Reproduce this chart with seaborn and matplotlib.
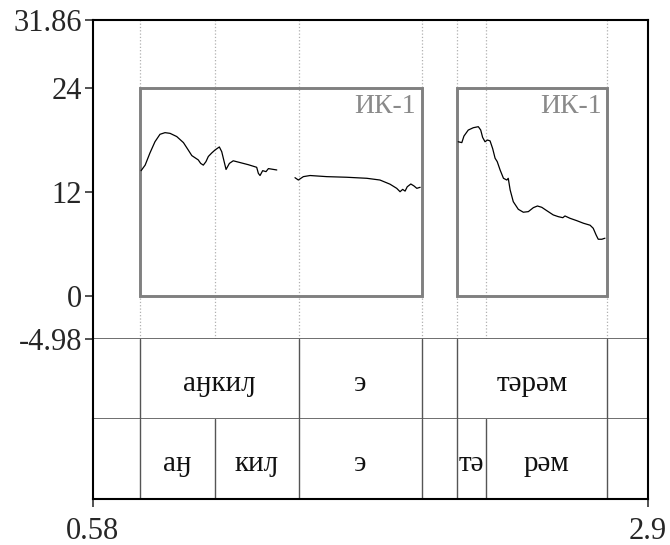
import matplotlib
matplotlib.use('Agg')
import matplotlib.pyplot as plt
import pandas as pd
import seaborn as sns
from matplotlib.patches import Rectangle

# Pitch track (time in s, F0 in semitones-ish units), three voiced stretches
seg1_t = [0.782, 0.799, 0.819, 0.840, 0.861, 0.882, 0.903, 0.931, 0.959, 0.979, 0.994,
          1.007, 1.021, 1.031, 1.042, 1.053, 1.063, 1.077, 1.091, 1.109, 1.119, 1.137,
          1.151, 1.167, 1.195, 1.230, 1.265, 1.272, 1.279, 1.290, 1.304, 1.314, 1.349]
seg1_f = [14.46, 15.1, 16.5, 17.8, 18.66, 18.85, 18.77, 18.4, 17.7, 16.85, 16.2,
          15.96, 15.7, 15.3, 15.1, 15.5, 16.1, 16.5, 16.85, 17.2, 16.65, 14.6,
          15.3, 15.6, 15.4, 15.15, 14.85, 14.15, 13.9, 14.46, 14.35, 14.7, 14.54]
seg2_t = [1.425, 1.439, 1.460, 1.488, 1.558, 1.641, 1.725, 1.780, 1.822, 1.850, 1.864,
          1.875, 1.885, 1.894, 1.909, 1.922, 1.934, 1.948]
seg2_f = [13.65, 13.38, 13.77, 13.9, 13.77, 13.7, 13.58, 13.38, 12.9, 12.42, 12.03,
          12.3, 12.1, 12.6, 12.92, 12.7, 12.42, 12.54]
seg3_t = [2.107, 2.122, 2.131, 2.149, 2.170, 2.191, 2.201, 2.209, 2.219, 2.229, 2.240,
          2.251, 2.261, 2.270, 2.282, 2.296, 2.310, 2.316, 2.324, 2.337, 2.358, 2.379,
          2.400, 2.421, 2.438, 2.456, 2.477, 2.504, 2.525, 2.544, 2.553, 2.574, 2.602,
          2.630, 2.658, 2.671, 2.683, 2.692, 2.707, 2.720]
seg3_f = [17.8, 17.7, 18.46, 19.15, 19.42, 19.54, 19.15, 18.3, 17.8, 18.0, 17.9,
          17.0, 15.9, 15.5, 14.54, 13.58, 13.38, 13.58, 12.23, 10.88, 10.0, 9.66,
          9.73, 10.19, 10.38, 10.23, 9.84, 9.35, 9.15, 9.03, 9.23, 8.96, 8.69,
          8.39, 8.16, 7.81, 7.04, 6.54, 6.54, 6.66]

# Intonation units (boxes)
box_start = [0.778, 2.102]
box_end = [1.954, 2.729]
box_top = 24
box_label = ['ИК-1', 'ИК-1']

# Text tiers
tier1_bounds = [0.778, 1.442, 1.954, 2.102, 2.729]
tier1_labels = ['аӈкиԓ', 'э', '', 'тәрәм']
tier2_bounds = [0.778, 1.091, 1.442, 1.954, 2.102, 2.223, 2.729]
tier2_labels = ['аӈ', 'киԓ', 'э', '', 'тә', 'рәм']

y_ticks = [-4.98, 0, 12, 24, 31.86]
y_ticklabels = ['-4.98', '0', '12', '24', '31.86']
x_min, x_max = 0.58, 2.9

sns.set_style('white')
plt.rcParams['font.family'] = ['Liberation Serif', 'DejaVu Serif']

df = pd.concat([
    pd.DataFrame({'time': seg1_t, 'f0': seg1_f, 'seg': 1}),
    pd.DataFrame({'time': seg2_t, 'f0': seg2_f, 'seg': 2}),
    pd.DataFrame({'time': seg3_t, 'f0': seg3_f, 'seg': 3}),
])

fig = plt.figure(figsize=(6.7, 5.45), dpi=100)
gs = fig.add_gridspec(3, 1, height_ratios=[319, 80, 80], hspace=0,
                      left=0.1384, right=0.9672, top=0.9633, bottom=0.0844)
ax = fig.add_subplot(gs[0])
t1 = fig.add_subplot(gs[1], sharex=ax)
t2 = fig.add_subplot(gs[2], sharex=ax)

# dotted boundary lines in pitch panel
for b in sorted(set(tier1_bounds + tier2_bounds)):
    ax.axvline(b, color='#b0b0b0', lw=0.9, ls=':', zorder=1)

# boxes
for s, e, lab in zip(box_start, box_end, box_label):
    ax.add_patch(Rectangle((s, 0), e - s, box_top, fill=False, ec='#808080', lw=2.1, zorder=2))
    ax.annotate(lab, xy=(e, box_top), xytext=(-4, -4.5), textcoords='offset points',
                ha='right', va='top', fontsize=20, color='#8a8a8a')

sns.lineplot(data=df, x='time', y='f0', units='seg', estimator=None, sort=False,
             color='black', lw=0.9, ax=ax, zorder=3)

ax.set_xlim(x_min, x_max)
ax.set_ylim(y_ticks[0], y_ticks[-1])
ax.set_yticks(y_ticks)
ax.set_yticklabels(y_ticklabels)
ax.set_xlabel('')
ax.set_ylabel('')
ax.tick_params(axis='x', bottom=False, labelbottom=False)
ax.tick_params(axis='y', left=True, direction='out', length=5.5, width=1.2,
               pad=2, labelsize=22, color='#333333')
for side in ['left', 'top', 'right']:
    ax.spines[side].set_linewidth(1.5)
    ax.spines[side].set_color('black')
ax.spines['bottom'].set_linewidth(1.2)
ax.spines['bottom'].set_color('#555555')


def draw_tier(tax, bounds, labels):
    tax.set_ylim(0, 1)
    tax.set_yticks([])
    for b in bounds:
        tax.axvline(b, color='#555555', lw=1.0)
    for i, lab in enumerate(labels):
        if lab:
            tax.text((bounds[i] + bounds[i + 1]) / 2, 0.44, lab, ha='center', va='center',
                     fontsize=21, color='#111111')
    tax.spines['top'].set_visible(False)
    for side in ['left', 'right']:
        tax.spines[side].set_linewidth(1.5)
        tax.spines[side].set_color('black')


draw_tier(t1, tier1_bounds, tier1_labels)
draw_tier(t2, tier2_bounds, tier2_labels)
t1.tick_params(axis='x', bottom=False, labelbottom=False)
t1.spines['bottom'].set_linewidth(1.2)
t1.spines['bottom'].set_color('#555555')
t2.spines['bottom'].set_linewidth(1.5)
t2.spines['bottom'].set_color('black')
t2.set_xticks([x_min, x_max])
t2.set_xticklabels(['0.58', '2.9'])
t2.tick_params(axis='x', bottom=True, direction='out', length=6, width=1.2,
               pad=7, labelsize=22, color='#333333')

fig.savefig('out.png', dpi=100)
